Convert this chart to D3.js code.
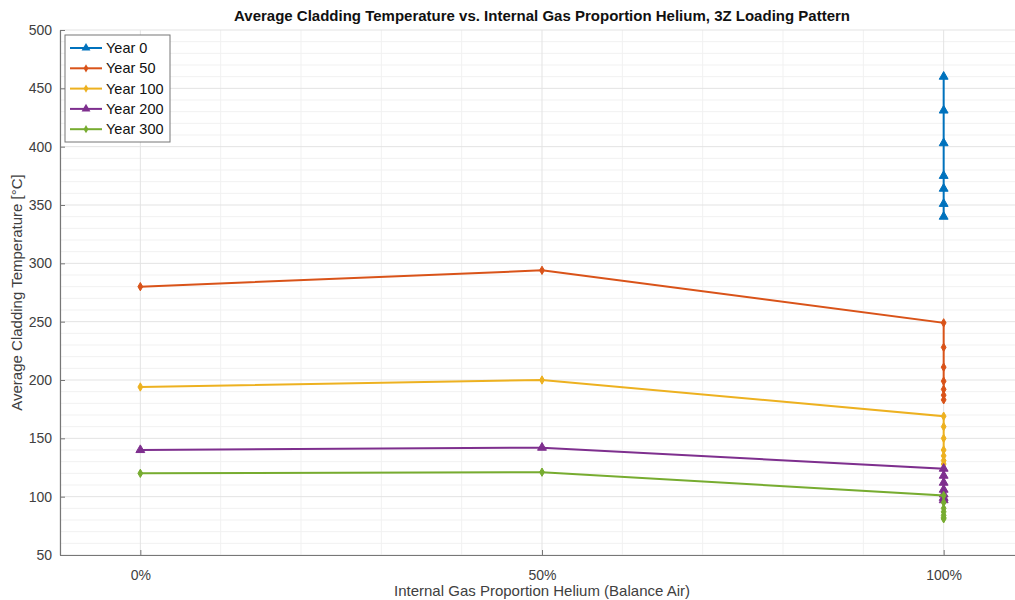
<!DOCTYPE html>
<meta charset="utf-8">
<script src="https://d3js.org/d3.v7.min.js"></script>
<style>
  body { margin: 0; background: white; }
  text { font-family: "Liberation Sans", Arial, sans-serif; }
</style>
<body>
<div id="chart"></div>
<script>
// helium fraction for each point (the 100% column holds several cases)
var helium = [0, 0.5, 1, 1, 1, 1, 1, 1, 1];
var seriesNames = ["Year 0", "Year 50", "Year 100", "Year 200", "Year 300"];
var year0   = [null, null, 460, 431, 403, 375, 364, 351, 340];
var year50  = [280, 294, 249, 228, 211, 199, 192, 187, 183];
var year100 = [194, 200, 169, 160, 150, 140, 135, 131, 128];
var year200 = [140, 142, 124, 118, 112, 106, 102, 99, 97];
var year300 = [120, 121, 101, 95, 90, 87, 84, 82, 81];
var xTicks = [0, 0.5, 1];
var xTickLabels = ["0%", "50%", "100%"];
var yTicks = [50, 100, 150, 200, 250, 300, 350, 400, 450, 500];

var allSeries = [year0, year50, year100, year200, year300];
var colors = ["#0072BD", "#D95319", "#EDB120", "#7E2F8E", "#77AC30"];
var markers = [d3.symbolTriangle, d3.symbolDiamond, d3.symbolDiamond, d3.symbolTriangle, d3.symbolDiamond];

var W = 1015, H = 600;
var pLeft = 60, pTop = 30, pRight = 1024, pBottom = 555;

var svg = d3.select("#chart").append("svg")
    .attr("width", W).attr("height", H);

var x = d3.scaleLinear().domain([-0.1, 1.1]).range([pLeft, pRight]);
var y = d3.scaleLinear().domain([50, 500]).range([pBottom, pTop]);

// minor grid
var g = svg.append("g");
g.selectAll(".mx").data(d3.range(-1, 12).map(function(i){ return i / 10; }).filter(function(v){ return xTicks.indexOf(v) < 0; }))
  .enter().append("line")
    .attr("x1", function(d){ return x(d); }).attr("x2", function(d){ return x(d); })
    .attr("y1", pTop).attr("y2", pBottom)
    .attr("stroke", "#f1f1f1").attr("stroke-width", 1);
g.selectAll(".my").data(d3.range(50, 501, 10).filter(function(v){ return v % 50 != 0; }))
  .enter().append("line")
    .attr("x1", pLeft).attr("x2", pRight)
    .attr("y1", function(d){ return y(d); }).attr("y2", function(d){ return y(d); })
    .attr("stroke", "#f1f1f1").attr("stroke-width", 1);
// major grid
g.selectAll(".gx").data(xTicks).enter().append("line")
    .attr("x1", function(d){ return x(d); }).attr("x2", function(d){ return x(d); })
    .attr("y1", pTop).attr("y2", pBottom)
    .attr("stroke", "#e3e3e3");
g.selectAll(".gy").data(yTicks).enter().append("line")
    .attr("x1", pLeft).attr("x2", pRight)
    .attr("y1", function(d){ return y(d); }).attr("y2", function(d){ return y(d); })
    .attr("stroke", "#e3e3e3");

// axes
var xAxis = svg.append("g")
    .attr("transform", "translate(0," + pBottom + ")")
    .call(d3.axisBottom(x).tickValues(xTicks).tickSizeInner(-5).tickSizeOuter(0).tickPadding(15)
      .tickFormat(function(d, i){ return xTickLabels[i]; }));
var yAxis = svg.append("g")
    .attr("transform", "translate(" + pLeft + ",0)")
    .call(d3.axisLeft(y).tickValues(yTicks).tickSizeInner(-5).tickSizeOuter(0).tickPadding(8));
[xAxis, yAxis].forEach(function(a){
  a.select(".domain").attr("stroke", "#777").attr("stroke-width", 1.2);
  a.selectAll(".tick line").attr("stroke", "#777");
  a.selectAll("text").attr("fill", "#404040").style("font-size", "14px")
    .style("font-family", "'Liberation Sans', Arial, sans-serif");
});

// lines and markers
var line = d3.line()
    .defined(function(d){ return d[1] != null; })
    .x(function(d){ return x(d[0]); })
    .y(function(d){ return y(d[1]); });

allSeries.forEach(function(vals, i){
  var pts = vals.map(function(v, j){ return [helium[j], v]; });
  svg.append("path")
    .datum(pts)
    .attr("fill", "none")
    .attr("stroke", colors[i])
    .attr("stroke-width", 2)
    .attr("d", line);
  svg.selectAll(".m" + i)
    .data(pts.filter(function(d){ return d[1] != null; }))
    .enter().append("path")
      .attr("transform", function(d){ return "translate(" + x(d[0]) + "," + y(d[1]) + ")"; })
      .attr("d", d3.symbol().type(markers[i]).size(markers[i] === d3.symbolTriangle ? 34 : 20))
      .attr("fill", colors[i]).attr("stroke", colors[i]).attr("stroke-width", 1);
});

// title and labels
svg.append("text")
    .attr("x", x(0.5)).attr("y", 21)
    .attr("text-anchor", "middle")
    .style("font-size", "15px").style("font-weight", "bold")
    .attr("fill", "#111")
    .text("Average Cladding Temperature vs. Internal Gas Proportion Helium, 3Z Loading Pattern");

svg.append("text")
    .attr("x", x(0.5)).attr("y", 596)
    .attr("text-anchor", "middle")
    .style("font-size", "15px")
    .attr("fill", "#404040")
    .text("Internal Gas Proportion Helium (Balance Air)");

svg.append("text")
    .attr("transform", "translate(22," + ((pTop + pBottom) / 2) + ") rotate(-90)")
    .attr("text-anchor", "middle")
    .style("font-size", "15px")
    .attr("fill", "#404040")
    .text("Average Cladding Temperature [°C]");

// legend
var lg = svg.append("g").attr("transform", "translate(65,35)");
lg.append("rect")
    .attr("width", 105).attr("height", 107)
    .attr("fill", "white").attr("stroke", "#777").attr("stroke-width", 1);
seriesNames.forEach(function(name, i){
  var yy = 13 + i * 20.3;
  lg.append("line")
    .attr("x1", 5).attr("x2", 37).attr("y1", yy).attr("y2", yy)
    .attr("stroke", colors[i]).attr("stroke-width", 2);
  lg.append("path")
    .attr("transform", "translate(21," + yy + ")")
    .attr("d", d3.symbol().type(markers[i]).size(markers[i] === d3.symbolTriangle ? 34 : 20))
    .attr("fill", colors[i]);
  lg.append("text")
    .attr("x", 41).attr("y", yy + 5)
    .style("font-size", "14.5px")
    .attr("fill", "#111")
    .text(name);
});
</script>
</body>
